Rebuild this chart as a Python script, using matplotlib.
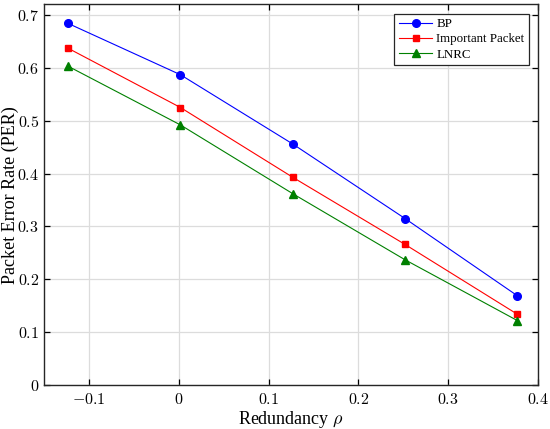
import matplotlib
matplotlib.use("Agg")
import matplotlib.pyplot as plt
from matplotlib.ticker import FuncFormatter

plt.rcParams['font.family'] = ['Liberation Serif', 'DejaVu Serif']
plt.rcParams['mathtext.fontset'] = 'cm'

redundancy = [-0.123, 0.002, 0.127, 0.252, 0.377]
per_bp = [0.684, 0.587, 0.456, 0.315, 0.169]
per_important = [0.637, 0.525, 0.393, 0.266, 0.134]
per_lnrc = [0.603, 0.492, 0.362, 0.237, 0.122]

fig = plt.figure(figsize=(5.5, 4.29), dpi=100)
ax = fig.add_axes([0.08, 0.1026, 0.898, 0.887])

ax.plot(redundancy, per_bp, color='blue', marker='o', markersize=5.5, lw=0.8, label='BP')
ax.plot(redundancy, per_important, color='red', marker='s', markersize=4.5, lw=0.8, label='Important Packet')
ax.plot(redundancy, per_lnrc, color='green', marker='^', markersize=5.5, lw=0.8, label='LNRC')

ax.set_xlim(-0.15, 0.4)
ax.set_ylim(0, 0.72)
ax.set_xticks([-0.1, 0, 0.1, 0.2, 0.3, 0.4])
ax.set_yticks([0, 0.1, 0.2, 0.3, 0.4, 0.5, 0.6, 0.7])

def fmt(v, pos):
    s = ('%g' % round(v, 2)).replace('-', '{-}')
    return r'$%s$' % s

ax.xaxis.set_major_formatter(FuncFormatter(fmt))
ax.yaxis.set_major_formatter(FuncFormatter(fmt))

ax.grid(True, color='#dcdcdc', lw=0.9)
ax.set_axisbelow(True)
ax.tick_params(direction='in', top=True, right=True, labelsize=11.5, length=4, width=0.9)
ax.tick_params(axis='x', pad=5)
for sp in ax.spines.values():
    sp.set_linewidth(1.0)
    sp.set_color('#262626')

ax.set_xlabel(r'Redundancy $\rho$', fontsize=13, labelpad=1)
ax.set_ylabel('Packet Error Rate (PER)', fontsize=13)
ax.yaxis.set_label_coords(-0.05, 0.5)

leg = ax.legend(loc='upper right', fontsize=9.3, fancybox=False, framealpha=1,
                edgecolor='#262626', borderpad=0.35, labelspacing=0.25,
                handlelength=2.6, handletextpad=0.3, borderaxespad=0.7)
leg.get_frame().set_linewidth(0.9)

fig.savefig('out.png', dpi=100)
